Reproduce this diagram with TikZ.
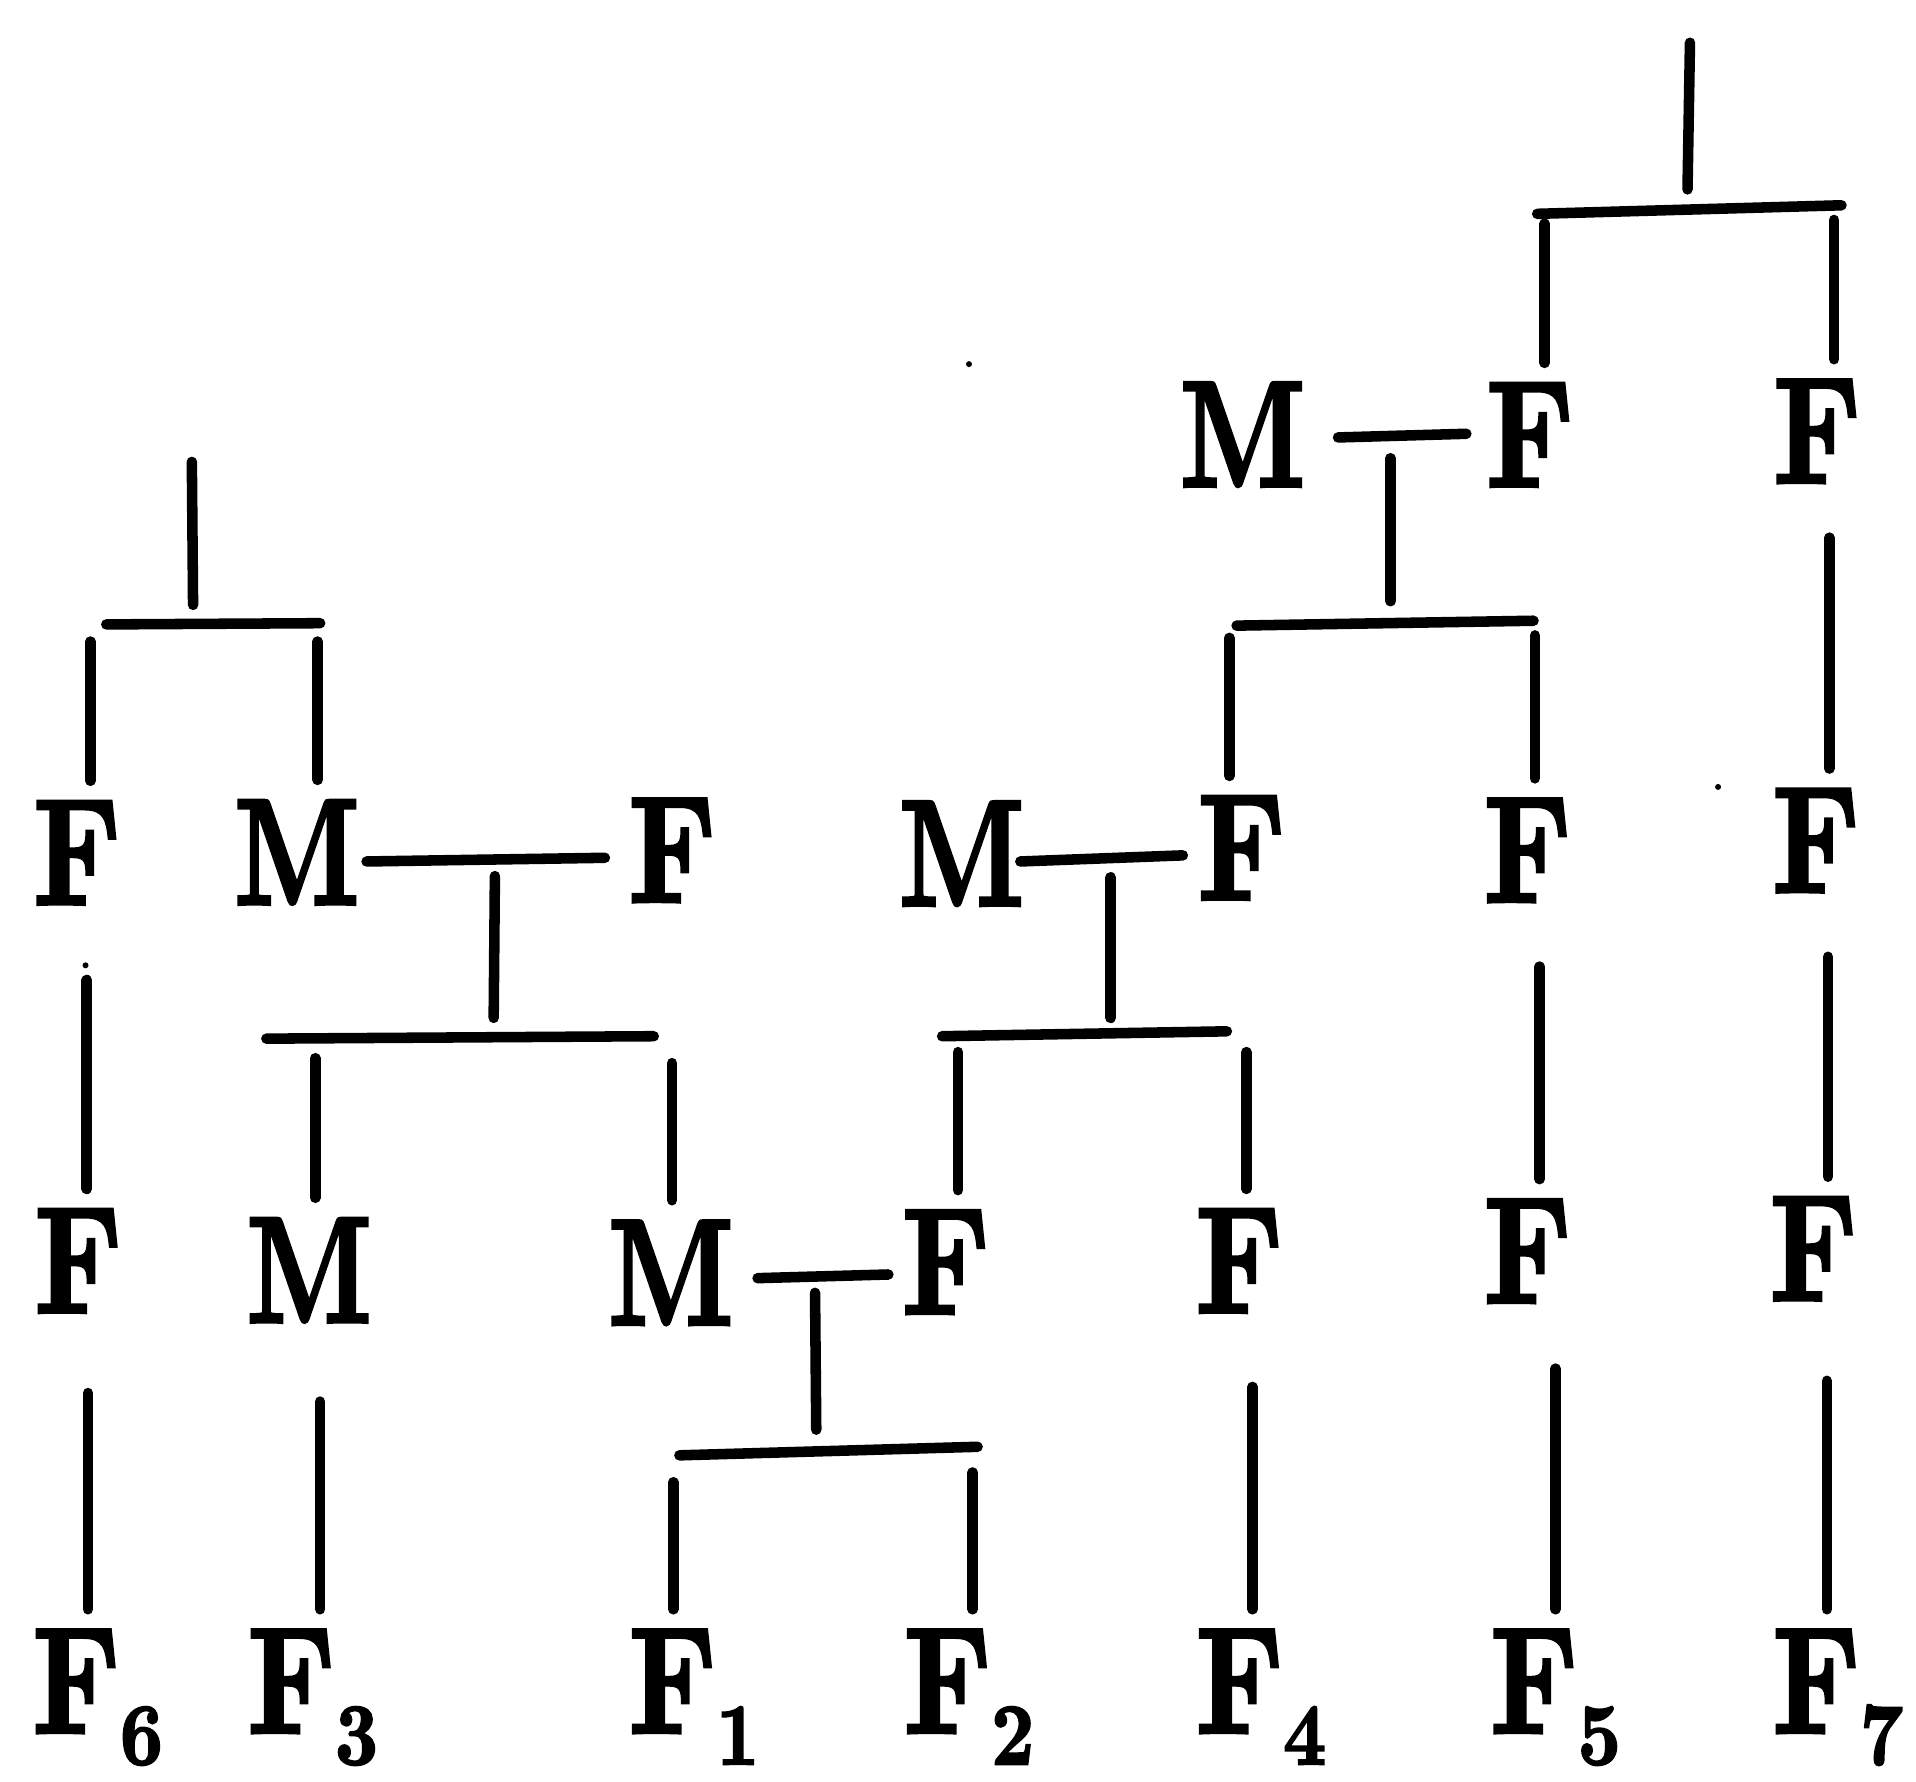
\documentclass[tikz,border=0pt]{standalone}
\usepackage{fontspec}
\usepackage{graphicx}
% heavy bold serif for the pedigree letters
\newfontfamily\heavy{lmroman10-bold}[Extension=.otf, FakeBold=2.5]
\newcommand\nF{\scalebox{0.8}[1]{F}}
\newcommand\nM{\scalebox{0.76}[1]{M}}
\newcommand\subn[1]{\raisebox{-9pt}{\fontsize{25}{25}\selectfont\scalebox{0.85}[1]{#1}}}

\tikzset{
  ln/.style={line width=3pt, line cap=round},
  sym/.style={inner sep=0pt, anchor=base, font=\fontsize{43}{43}\selectfont\heavy},
  kid/.style={sym, anchor=base west},
  gap/.style={shorten >=0.2cm}
}

\begin{document}
\begin{tikzpicture}[x=0.01222cm, y=-0.01222cm]
\useasboundingbox (0,0) rectangle (1568,1458);

% ---- letters, row by row ----
\node[sym] (r1m) at (1017,398) {\nM};
\node[sym] (r1f) at (1252,398) {\nF};
\node[sym] (r1g) at (1487,395) {\nF};

\node[sym] (r2a) at (63,740)  {\nF};
\node[sym] (r2b) at (243,740) {\nM};
\node[sym] (r2c) at (550,738) {\nF};
\node[sym] (r2d) at (787,741) {\nM};
\node[sym] (r2e) at (1016,736) {\nF};
\node[sym] (r2f) at (1250,738) {\nF};
\node[sym] (r2g) at (1486,730) {\nF};

\node[sym] (r3a) at (64,1074)  {\nF};
\node[sym] (r3b) at (253,1082) {\nM};
\node[sym] (r3c) at (549,1084) {\nM};
\node[sym] (r3d) at (774,1075) {\nF};
\node[sym] (r3e) at (1014,1074) {\nF};
\node[sym] (r3f) at (1250,1066) {\nF};
\node[sym] (r3g) at (1484,1064) {\nF};

\node[kid] (r4a) at (26,1418)   {\nF\subn{6}};
\node[kid] (r4b) at (202,1418)  {\nF\subn{3}};
\node[kid] (r4c) at (514,1418)  {\nF\subn{1}};
\node[kid] (r4d) at (739,1418)  {\nF\subn{2}};
\node[kid] (r4e) at (978,1418)  {\nF\subn{4}};
\node[kid] (r4f) at (1219,1418) {\nF\subn{5}};
\node[kid] (r4g) at (1450,1418) {\nF\subn{7}};

% ---- sibship above the first row ----
\coordinate (top) at (1383,35);
\draw[ln] (top) -- (1381,155);
\draw[ln] (1258,175) -- (1507,168);
\draw[ln,gap] (1264,183) -- (1264,183 |- r1f.north);
\draw[ln,gap] (1501,180) -- (1501,180 |- r1g.north);

% ---- M x F in row 1 ----
\draw[ln] (1095,358) -- (1200,355);
\draw[ln] (1138,375) -- (1138,492);
\draw[ln] (1012,512) -- (1255,508);
\draw[ln,gap] (1006,522) -- (1006,522 |- r2e.north);
\draw[ln,gap] (1256,520) -- (1256,520 |- r2f.north);
\draw[ln,gap] (1497,440) -- (1497,440 |- r2g.north);

% ---- sibship above F, M on the left ----
\coordinate (topL) at (157,378);
\draw[ln] (topL) -- (158,495);
\draw[ln] (87,511) -- (262,510);
\draw[ln,gap] (74,525) -- (74,525 |- r2a.north);
\draw[ln,gap] (260,525) -- (260,525 |- r2b.north);

% ---- M x F in row 2 (left) ----
\draw[ln] (300,705) -- (495,702);
\draw[ln] (405,717) -- (404,833);
\draw[ln] (218,850) -- (535,848);
\draw[ln,gap] (258,866) -- (258,866 |- r3b.north);
\draw[ln,gap] (550,870) -- (550,870 |- r3c.north);

% ---- M x F in row 2 (right) ----
\draw[ln] (835,705) -- (968,700);
\draw[ln] (909,718) -- (909,833);
\draw[ln] (771,848) -- (1004,844);
\draw[ln,gap] (784,861) -- (784,861 |- r3d.north);
\draw[ln,gap] (1020,861) -- (1020,861 |- r3e.north);

% ---- single descents, row 2 to row 3 ----
\fill (70,790) circle (0.03cm);
\draw[ln,gap] (71,802) -- (71,802 |- r3a.north);
\draw[ln,gap] (1260,791) -- (1260,791 |- r3f.north);
\draw[ln,gap] (1496,783) -- (1496,783 |- r3g.north);

% ---- M x F in row 3 ----
\draw[ln] (620,1046) -- (727,1043);
\draw[ln] (667,1058) -- (668,1170);
\draw[ln] (556,1191) -- (800,1184);
\draw[ln,gap] (551,1213) -- (551,1213 |- r4c.north);
\draw[ln,gap] (796,1205) -- (796,1205 |- r4d.north);

% ---- single descents, row 3 to row 4 ----
\draw[ln,gap] (72,1140)   -- (72,1140 |- r4a.north);
\draw[ln,gap] (262,1147)  -- (262,1147 |- r4b.north);
\draw[ln,gap] (1025,1135) -- (1025,1135 |- r4e.north);
\draw[ln,gap] (1273,1120) -- (1273,1120 |- r4f.north);
\draw[ln,gap] (1495,1130) -- (1495,1130 |- r4g.north);

% stray specks of ink
\fill (793,298) circle (0.03cm);
\fill (1406,644) circle (0.03cm);
\end{tikzpicture}
\end{document}
